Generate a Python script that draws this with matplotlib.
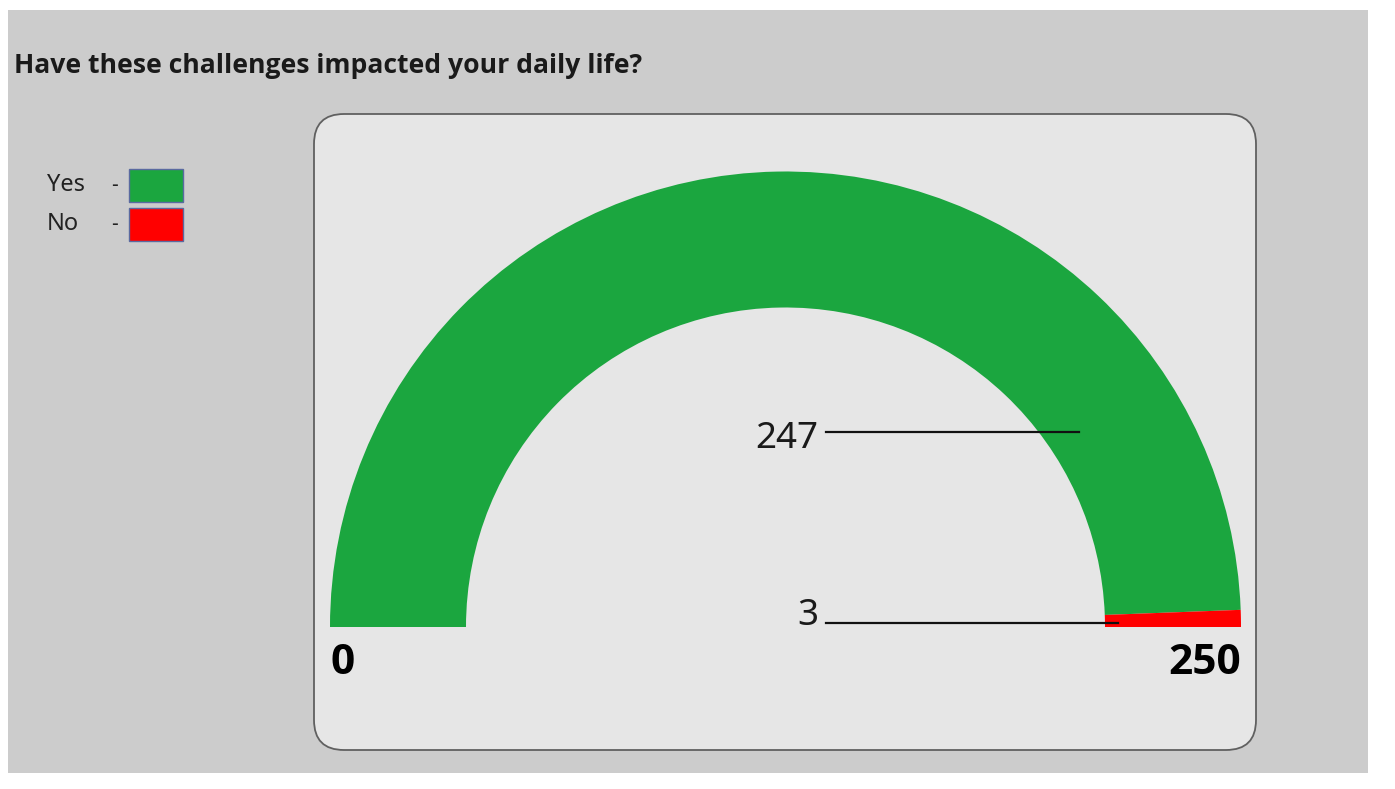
import matplotlib
matplotlib.use("Agg")
import matplotlib.pyplot as plt
from matplotlib.patches import Wedge, Rectangle, FancyBboxPatch

# data
categories = ["Yes", "No"]
counts = [247, 3]
colors = ["#1ba63f", "#ff0000"]
gauge_min = 0
gauge_max = 250
title = "Have these challenges impacted your daily life?"

W, H = 1395, 789
plt.rcParams["font.family"] = ["Noto Sans", "DejaVu Sans"]
BOLD = ["Open Sans", "Lato", "DejaVu Sans"]

fig = plt.figure(figsize=(W / 100, H / 100), dpi=100)
fig.patch.set_facecolor("white")
ax = fig.add_axes([0, 0, 1, 1])
ax.set_xlim(0, W)
ax.set_ylim(H, 0)  # pixel-like coords, y down
ax.axis("off")

# outer grey panel
ax.add_patch(Rectangle((8, 10), 1360, 763, facecolor="#cccccc", edgecolor="none"))
# inner rounded card
ax.add_patch(FancyBboxPatch((314, 114), 942, 636,
                            boxstyle="round,pad=0,rounding_size=30",
                            facecolor="#e6e6e6", edgecolor="#606060", linewidth=1.3))

ax.text(14, 66, title, fontsize=19.1, fontweight="bold", family=BOLD,
        color="#1a1a1a", ha="left", va="center")

# legend
for i, (cat, col) in enumerate(zip(categories, colors)):
    y = 185 + i * 39
    ax.text(47, y, cat, fontsize=17, color="#222222", ha="left", va="center")
    ax.text(111, y, "-", fontsize=15, color="#222222", ha="left", va="center")
    ax.add_patch(Rectangle((129, y - 16), 54, 33, facecolor=col,
                           edgecolor="#5a6aa0", linewidth=1.0))

# gauge (y axis inverted, so angles are negated)
cx, cy = 785.5, 627
r_out, band = 455.5, 136
span = gauge_max - gauge_min
start = 0.0
for val, col in zip(counts, colors):
    a1 = 180 - start / span * 180
    a2 = 180 - (start + val) / span * 180
    ax.add_patch(Wedge((cx, cy), r_out, -a1, -a2, width=band,
                       facecolor=col, edgecolor="none"))
    start += val

# value labels with leader lines
label_pos = [(439, 432, 1079), (616, 623, 1118)]
for val, (ty, ly, lx) in zip(counts, label_pos):
    ax.text(818, ty, str(val), fontsize=26.5, color="#1a1a1a", ha="right", va="center")
    ax.plot([826, lx], [ly, ly], color="#111111", linewidth=1.6)

ax.text(330, 663, str(gauge_min), fontsize=30.5, fontweight="bold", family=BOLD,
        color="black", ha="left", va="center")
ax.text(1241, 663, str(gauge_max), fontsize=30.5, fontweight="bold", family=BOLD,
        color="black", ha="right", va="center")

fig.savefig("out.png", dpi=100, facecolor="white")
